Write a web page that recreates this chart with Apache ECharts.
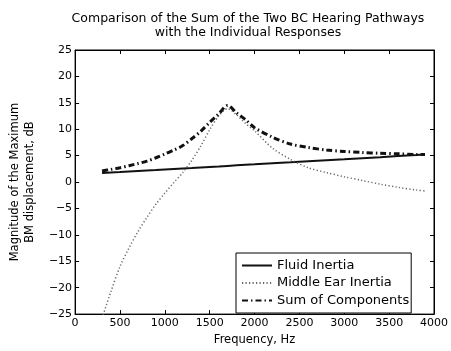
<!DOCTYPE html>
<html>
<head>
<meta charset="utf-8">
<script src="https://cdn.jsdelivr.net/npm/echarts@6/dist/echarts.min.js"></script>
<style>
  html, body { margin: 0; padding: 0; background: #fff; }
  #main { width: 451px; height: 351px; }
</style>
</head>
<body>
<div id="main"></div>
<script>
// 频率（Hz）
var freq = [300, 400, 500, 600, 700, 800, 900, 1000, 1100, 1200, 1300, 1400, 1500, 1600,
  1700, 1800, 1900, 2000, 2200, 2400, 2600, 2800, 3000, 3200, 3400, 3600, 3800, 3900];
// Fluid Inertia
var fluid = [1.70, 1.80, 1.89, 1.99, 2.09, 2.19, 2.28, 2.38, 2.48, 2.58, 2.67, 2.77, 2.87, 2.96,
  3.06, 3.16, 3.26, 3.35, 3.55, 3.74, 3.94, 4.13, 4.32, 4.52, 4.71, 4.91, 5.10, 5.20];
// Middle Ear Inertia
var middleEar = [-25.8, -20.7, -16.0, -12.5, -9.4, -6.7, -4.2, -2.1, -0.1, 1.8, 4.1, 6.8, 9.9, 12.5,
  13.9, 12.7, 11.1, 9.7, 6.4, 4.3, 2.7, 1.8, 1.0, 0.3, -0.4, -1.0, -1.5, -1.7];
// Sum of Components
var sumComp = [2.1, 2.4, 2.7, 3.1, 3.5, 3.95, 4.6, 5.3, 6.05, 6.9, 8.2, 9.6, 11.3, 12.9,
  14.5, 13.1, 11.8, 10.3, 8.5, 7.2, 6.55, 6.05, 5.8, 5.6, 5.45, 5.35, 5.22, 5.2];

var seriesNames = ['Fluid Inertia', 'Middle Ear Inertia', 'Sum of Components'];
var titleText = 'Comparison of the Sum of the Two BC Hearing Pathways\nwith the Individual Responses';

(function() {
  var chartDom = document.getElementById('main');
  var myChart = echarts.init(chartDom);
  var option;
  var font = 'DejaVu Sans';

  function pairs(ys) {
    return freq.map(function(f, i) { return [f, ys[i]]; });
  }

  var tickStyle = { show: true, inside: true, length: 4, lineStyle: { color: '#000', width: 1 } };
  var lineAxis = { show: true, onZero: false, lineStyle: { color: '#000', width: 1 } };

  option = {
    animation: false,
    backgroundColor: '#fff',
    textStyle: { fontFamily: font },
    title: {
      text: titleText,
      left: 248,
      top: 12,
      padding: 0,
      textAlign: 'center',
      textStyle: {
        fontFamily: font,
        fontSize: 12.5,
        fontWeight: 'normal',
        color: '#000',
        lineHeight: 14
      }
    },
    grid: {
      left: 61,
      right: 16,
      top: 50,
      bottom: 31,
      show: true,
      borderColor: '#000',
      borderWidth: 1
    },
    legend: {
      orient: 'vertical',
      left: 236,
      top: 253,
      padding: [6, 2, 6, 5],
      itemWidth: 30,
      itemHeight: 12,
      itemGap: 4.5,
      borderColor: '#000',
      borderWidth: 1,
      backgroundColor: '#fff',
      itemStyle: { opacity: 0 },
      data: seriesNames,
      textStyle: { fontFamily: font, fontSize: 13, color: '#000' }
    },
    xAxis: [
      {
        type: 'value',
        min: 0,
        max: 4000,
        interval: 500,
        name: 'Frequency, Hz',
        nameLocation: 'middle',
        nameGap: 18,
        nameTextStyle: { fontFamily: font, fontSize: 11.5, color: '#000' },
        axisLine: lineAxis,
        axisTick: tickStyle,
        splitLine: { show: false },
        axisLabel: {
          color: '#000', fontFamily: font, fontSize: 11, margin: 4,
          formatter: function(v) { return String(v); }
        }
      },
      {
        type: 'value',
        position: 'top',
        min: 0,
        max: 4000,
        interval: 500,
        axisLine: lineAxis,
        axisTick: tickStyle,
        splitLine: { show: false },
        axisLabel: { show: false }
      }
    ],
    yAxis: [
      {
        type: 'value',
        min: -25,
        max: 25,
        interval: 5,
        name: 'Magnitude of the Maximum\nBM displacement, dB',
        nameLocation: 'middle',
        nameGap: 25,
        nameTextStyle: { fontFamily: font, fontSize: 11.5, color: '#000', lineHeight: 15 },
        axisLine: lineAxis,
        axisTick: tickStyle,
        splitLine: { show: false },
        axisLabel: {
          color: '#000',
          fontFamily: font,
          fontSize: 11,
          margin: 3,
          formatter: function(v) { return String(v).replace('-', '\u2212'); }
        }
      },
      {
        type: 'value',
        position: 'right',
        min: -25,
        max: 25,
        interval: 5,
        axisLine: lineAxis,
        axisTick: tickStyle,
        splitLine: { show: false },
        axisLabel: { show: false }
      }
    ],
    series: [
      {
        name: seriesNames[0],
        type: 'line',
        symbol: 'none',
        clip: true,
        lineStyle: { color: '#111', width: 2, type: 'solid' },
        itemStyle: { color: '#111' },
        data: pairs(fluid)
      },
      {
        name: seriesNames[1],
        type: 'line',
        symbol: 'none',
        smooth: 0.3,
        clip: true,
        lineStyle: { color: '#666', width: 1.5, type: [1.2, 2.3] },
        itemStyle: { color: '#666' },
        data: pairs(middleEar)
      },
      {
        name: seriesNames[2],
        type: 'line',
        symbol: 'none',
        smooth: 0.3,
        clip: true,
        lineStyle: { color: '#111', width: 3, type: [6, 3, 1.5, 3] },
        itemStyle: { color: '#111' },
        data: pairs(sumComp)
      }
    ]
  };

  option && myChart.setOption(option);
  window.addEventListener('resize', function() {
    myChart.resize();
  });
})();
</script>
</body>
</html>
